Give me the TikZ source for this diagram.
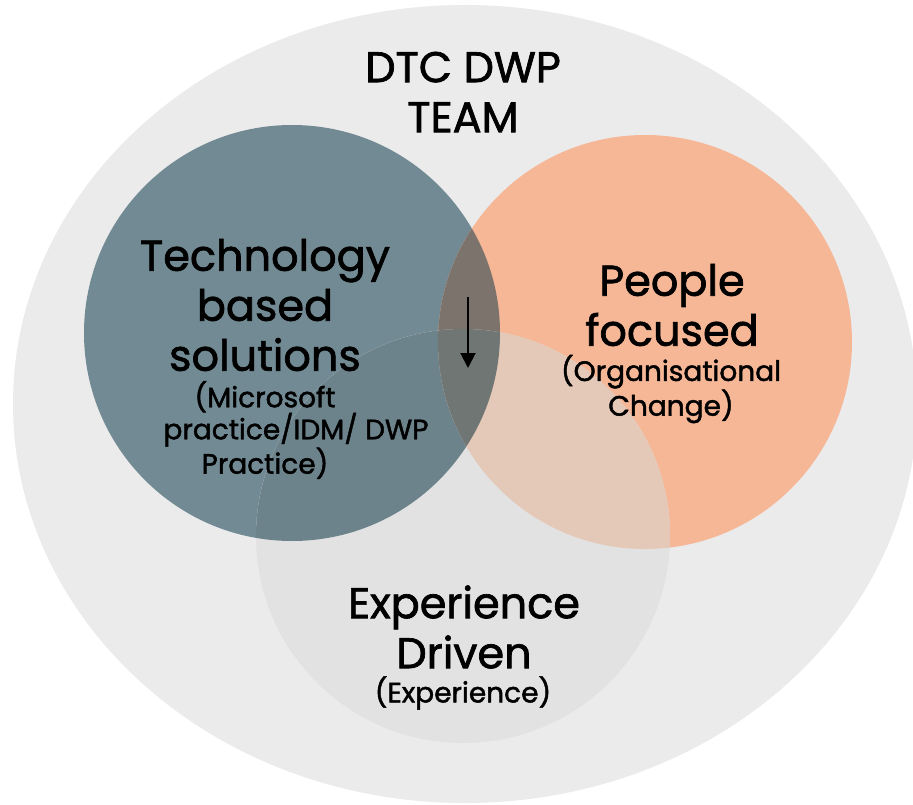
\documentclass[tikz,border=0pt]{standalone}
\usepackage{fontspec}
\setmainfont{Poppins}[FakeBold=1.6]
\usetikzlibrary{arrows.meta}
\definecolor{teamc}{RGB}{235,235,235}
\definecolor{techc}{RGB}{114,138,147}
\definecolor{peoplec}{RGB}{246,183,151}
\definecolor{expc}{RGB}{226,226,226}
\definecolor{techpeoplec}{RGB}{124,116,108}
\definecolor{techexpc}{RGB}{108,131,139}
\definecolor{peopleexpc}{RGB}{228,201,184}
\definecolor{allc}{RGB}{112,118,116}
\newcommand{\techcirc}{(292,333) circle[radius=208pt]}
\newcommand{\peoplecirc}{(645,342) circle[radius=207pt]}
\newcommand{\expcirc}{(463,536) circle[radius=207pt]}

\begin{document}
\begin{tikzpicture}[x=1pt,y=-1pt,>={Triangle[length=15pt,width=15pt]},
  bigtxt/.style={align=center,inner sep=0pt,font=\fontsize{43}{50}\selectfont},
  smalltxt/.style={align=center,inner sep=0pt,font=\fontsize{28}{32}\selectfont}]
  \useasboundingbox (0,0) rectangle (913,805);
  \fill[white] (0,0) rectangle (913,805);
  \fill[teamc] (465,404) ellipse[x radius=452pt,y radius=399pt];
  % the three circles
  \fill[techc] \techcirc;
  \fill[peoplec] \peoplecirc;
  \fill[expc] \expcirc;
  % overlaps
  \begin{scope} \clip \techcirc; \fill[techpeoplec] \peoplecirc; \end{scope}
  \begin{scope} \clip \techcirc; \fill[techexpc] \expcirc; \end{scope}
  \begin{scope} \clip \peoplecirc; \fill[peopleexpc] \expcirc; \end{scope}
  \begin{scope} \clip \techcirc; \clip \peoplecirc; \fill[allc] \expcirc; \end{scope}
  % texts
  \node[bigtxt] (team) at (463,92) {DTC DWP\\TEAM};
  \node[bigtxt] (tech) at (265,305) {Technology\\based\\solutions};
  \node[smalltxt] (techsub) at (265,430) {(Microsoft\\\hspace*{62pt}practice/IDM/ DWP\\Practice)};
  \node[bigtxt] (people) at (672,305) {People\\focused};
  \node[smalltxt] (peoplesub) at (671,389) {(Organisational\\Change)};
  \node[bigtxt] (exp) at (464,627) {Experience\\Driven};
  \node[smalltxt] (expsub) at (463,693) {(Experience)};
  % arrow
  \coordinate (arrS) at (468,297);
  \coordinate (arrE) at (468,368);
  \draw[->,line width=2pt] (arrS) -- (arrE);
\end{tikzpicture}
\end{document}
